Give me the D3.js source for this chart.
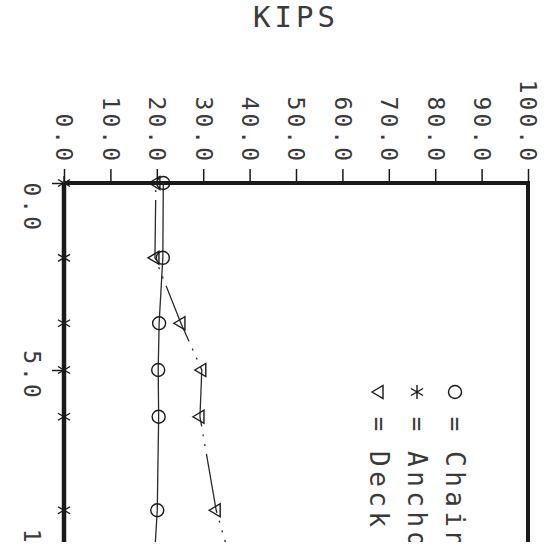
<!DOCTYPE html>
<html><head><meta charset="utf-8">
<script src="https://cdn.jsdelivr.net/npm/d3@7"></script>
<style>html,body{margin:0;padding:0;background:#fff}svg{display:block}</style>
</head><body><svg id="c" width="548" height="548"></svg>
<script>
// ---- data ----
const title = "KIPS";
const stations = [0, 2, 3.75, 5, 6.25, 8.75, 10];
const chain  = [21.4, 21.3, 20.5, 20.3, 20.4, 20.1, 19.5];
const anchor = [0, 0, 0, 0, 0, 0, 0];
const deck   = [19.8, 19.6, 25.2, 29.7, 29.3, 32.8, 35.7];
const kipsTicks = [0, 10, 20, 30, 40, 50, 60, 70, 80, 90, 100];
const stationTicks = [0, 5, 10];
const legendNames = ["Chain", "Anchor", "Deck"];
const legendSymbols = ["circle", "star", "triangle"];

// ---- layout (chart is drawn rotated: KIPS runs left->right, station runs top->bottom) ----
const svg = d3.select("#c");
const FONT = "'DejaVu Sans Mono', 'Liberation Mono', monospace";
const ink = "#1a1a1a", txt = "#3a3a3a";
const k = d3.scaleLinear().domain([0, 100]).range([64, 528]);
const s = d3.scaleLinear().domain([0, 10]).range([183, 557]);

svg.append("defs").append("clipPath").attr("id", "clip")
  .append("rect").attr("x", 0).attr("y", 0).attr("width", 548).attr("height", 542);
const root = svg.append("g").attr("clip-path", "url(#clip)");

// title
svg.append("text").attr("x", (k(0) + k(100)) / 2).attr("y", 27)
  .attr("text-anchor", "middle").attr("font-family", FONT).attr("font-size", 29)
  .attr("letter-spacing", 4).attr("fill", txt).text(title);

// top axis (KIPS)
const gTop = root.append("g").attr("transform", `translate(0,${s(0)})`)
  .call(d3.axisTop(k).tickValues(kipsTicks).tickSize(14).tickFormat(d3.format(".1f")));
gTop.select(".domain").remove();
gTop.selectAll(".tick line").attr("stroke", ink).attr("stroke-width", 1.5);
gTop.selectAll(".tick text").attr("x", 0).attr("y", 0).attr("dy", "0.35em")
  .attr("text-anchor", "end").attr("transform", "translate(0,-19) rotate(90)")
  .attr("font-family", FONT).attr("font-size", 23).attr("letter-spacing", 3).attr("fill", txt);

// left axis (station)
const gLeft = root.append("g").attr("transform", `translate(${k(0)},0)`)
  .call(d3.axisLeft(s).tickValues(stationTicks).tickSize(12).tickFormat(d3.format(".1f")));
gLeft.select(".domain").remove();
gLeft.selectAll(".tick line").attr("stroke", ink).attr("stroke-width", 1.5);
gLeft.selectAll(".tick text").attr("x", 0).attr("y", 0).attr("dy", "0.35em")
  .attr("text-anchor", (d, i) => i === 0 ? "start" : "middle")
  .attr("transform", (d, i) => i === 0 ? "translate(-32,-1) rotate(90)" : "translate(-32,5) rotate(90)")
  .attr("font-family", FONT).attr("font-size", 23).attr("letter-spacing", 3).attr("fill", txt);

// frame lines
root.append("line").attr("x1", k(0)).attr("x2", k(100)).attr("y1", s(0)).attr("y2", s(0))
  .attr("stroke", ink).attr("stroke-width", 4);
root.append("line").attr("x1", k(0)).attr("x2", k(0)).attr("y1", s(0) - 1).attr("y2", s(10))
  .attr("stroke", ink).attr("stroke-width", 4.5);
root.append("line").attr("x1", k(100)).attr("x2", k(100)).attr("y1", s(0) - 2).attr("y2", s(10))
  .attr("stroke", ink).attr("stroke-width", 4);

// series lines
const line = vals => d3.line().x((d, i) => k(vals[i])).y(d => s(d))(stations);
root.append("path").attr("d", line(anchor)).attr("fill", "none").attr("stroke", ink).attr("stroke-width", 1.3);
root.append("path").attr("d", line(chain)).attr("fill", "none").attr("stroke", "#2a2a2a").attr("stroke-width", 1.3);
root.append("path").attr("d", line(deck)).attr("fill", "none").attr("stroke", "#2a2a2a").attr("stroke-width", 1.3)
  .attr("stroke-dasharray", "60,8,2,8,2,8").attr("stroke-dashoffset", 71);

// marker shapes
function drawMarker(g, type, cx, cy) {
  if (type === "circle") {
    g.append("circle").attr("cx", cx).attr("cy", cy).attr("r", 6.5)
      .attr("fill", "none").attr("stroke", ink).attr("stroke-width", 1.4);
  } else if (type === "triangle") {
    g.append("path").attr("d", `M${cx - 7},${cy}L${cx + 4},${cy - 6.5}L${cx + 4},${cy + 6.5}Z`)
      .attr("fill", "none").attr("stroke", ink).attr("stroke-width", 1.4);
  } else {
    const r = 7, p = [];
    [90, 30, -30].forEach(a => {
      const dx = r * Math.cos(a * Math.PI / 180), dy = r * Math.sin(a * Math.PI / 180);
      p.push(`M${cx - dx},${cy - dy}L${cx + dx},${cy + dy}`);
    });
    g.append("path").attr("d", p.join("")).attr("fill", "none").attr("stroke", ink).attr("stroke-width", 1.4);
  }
}
const gm = root.append("g");
stations.forEach((st, i) => drawMarker(gm, "star", k(anchor[i]), s(st)));
stations.forEach((st, i) => drawMarker(gm, "circle", k(chain[i]), s(st)));
stations.forEach((st, i) => drawMarker(gm, "triangle", k(deck[i]), s(st)));

// legend (rotated with the chart)
const legX = d3.scaleLinear().domain([0, 1]).range([455, 417]);
const gl = root.append("g");
legendNames.forEach((name, i) => {
  const x = legX(i);
  drawMarker(gl, legendSymbols[i], x, 392);
  gl.append("text").attr("x", 0).attr("y", 0).attr("dy", "0.35em").attr("text-anchor", "middle")
    .attr("transform", `translate(${x},424) rotate(90)`)
    .attr("font-family", FONT).attr("font-size", 24).attr("fill", txt).text("=");
  gl.append("text").attr("x", 0).attr("y", 0).attr("dy", "0.35em").attr("text-anchor", "start")
    .attr("transform", `translate(${x},451) rotate(90)`)
    .attr("font-family", FONT).attr("font-size", 26).attr("letter-spacing", 4.5).attr("fill", txt).text(name);
});
</script></body></html>
